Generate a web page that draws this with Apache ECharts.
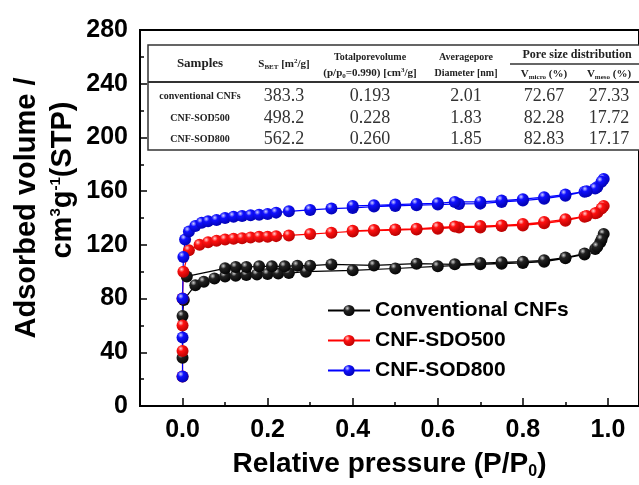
<!DOCTYPE html>
<html>
<head>
<meta charset="utf-8">
<script src="https://cdn.jsdelivr.net/npm/echarts@6/dist/echarts.min.js"></script>
<style>
	html, body { margin: 0; padding: 0; background: #fff; }
	#main { width: 639px; height: 485px; }
</style>
</head>
<body>
<div id="main"></div>
<script>
// isotherm data, adsorption branch then desorption branch (P/P0, cm3/g)
var cnfP = [0, 0, 0.003, 0.03, 0.05, 0.075, 0.1, 0.125, 0.15, 0.175, 0.2, 0.225, 0.25, 0.29, 0.4, 0.5, 0.6, 0.7, 0.75, 0.8, 0.85, 0.9, 0.945, 0.97, 0.982, 0.99,
	0.985, 0.975, 0.945, 0.9, 0.85, 0.8, 0.75, 0.7, 0.64, 0.55, 0.45, 0.35, 0.3, 0.27, 0.24, 0.21, 0.18, 0.15, 0.125, 0.1, 0.01];
var cnfV = [36, 67, 79, 90, 92.5, 95, 96.5, 97, 97.5, 98, 98.3, 98.7, 99, 100, 101, 102.4, 104, 105.5, 106, 106.5, 107.5, 110, 112.8, 117, 122, 128,
	124, 118.5, 113.5, 110.5, 108.5, 107.5, 107, 106.5, 105.5, 106, 104.7, 105.4, 104.5, 104.5, 104, 104, 104, 103.5, 103.5, 102.5, 96.5];

var sod500P = [0, 0, 0, 0, 0.002, 0.015, 0.04, 0.06, 0.08, 0.1, 0.12, 0.14, 0.16, 0.18, 0.2, 0.22, 0.25, 0.3, 0.35, 0.4, 0.45, 0.5, 0.55, 0.6, 0.65, 0.7, 0.75, 0.8, 0.85, 0.9, 0.945, 0.975, 0.99,
	0.985, 0.97, 0.95, 0.9, 0.85, 0.8, 0.75, 0.7, 0.64, 0.6, 0.55, 0.5, 0.45, 0.4];
var sod500V = [22, 41, 60, 80, 100, 116, 120, 122, 123, 124, 124.5, 125, 125.5, 126, 126, 126.5, 127, 128, 129, 130, 130.5, 131, 131.5, 132, 133, 133, 134, 134.5, 136, 138, 141, 144, 149,
	147, 143.5, 141.5, 139, 137, 135.5, 134.5, 134, 133.6, 133, 132, 131.5, 131, 130.5];

var sod800P = [0, 0, 0, 0.002, 0.006, 0.015, 0.03, 0.045, 0.06, 0.08, 0.1, 0.12, 0.14, 0.16, 0.18, 0.2, 0.22, 0.25, 0.3, 0.35, 0.4, 0.45, 0.5, 0.55, 0.6, 0.65, 0.7, 0.75, 0.8, 0.85, 0.9, 0.945, 0.975, 0.99,
	0.985, 0.97, 0.95, 0.9, 0.85, 0.8, 0.75, 0.7, 0.64, 0.6, 0.55, 0.5, 0.45, 0.4];
var sod800V = [22, 51, 80, 111, 124, 130, 134, 136.5, 137.5, 138.5, 140, 141, 141.5, 142, 142.5, 143, 144, 145, 146, 147, 147.5, 148.5, 149, 149.5, 150, 150.5, 150.7, 152, 153, 154.4, 156.6, 159.6, 163, 169,
	167, 162, 160, 157.5, 155.5, 154, 153, 152, 152, 151, 150.5, 150, 149.5, 149];

var seriesNames = ['Conventional CNFs', 'CNF-SDO500', 'CNF-SOD800'];
var xMajorTicks = [0, 0.2, 0.4, 0.6, 0.8, 1.0];
var xMinorTicks = [0.1, 0.3, 0.5, 0.7, 0.9];

// inset table
var tableSamples = ['conventional CNFs', 'CNF-SOD500', 'CNF-SOD800'];
var tableSbet = ['383.3', '498.2', '562.2'];
var tableVolume = ['0.193', '0.228', '0.260'];
var tableDiameter = ['2.01', '1.83', '1.85'];
var tableMicro = ['72.67', '82.28', '82.83'];
var tableMeso = ['27.33', '17.72', '17.17'];

function zip(xs, ys) {
	return xs.map(function (x, i) { return [x, ys[i]]; });
}

// shaded "ball" markers
function ball(light, base, dark) {
	return new echarts.graphic.RadialGradient(0.35, 0.3, 0.8, [
		{offset: 0, color: light},
		{offset: 0.3, color: base},
		{offset: 1, color: dark}
	]);
}

var sans = '"Liberation Sans", Arial, sans-serif';
var serif = '"Liberation Serif", "Times New Roman", serif';

var myChart = echarts.init(document.getElementById('main'));

// table graphics
var colX = [200, 284, 370, 466, 544, 609];
var rowY = [96, 118, 139];
var tableEls = [
	{type: 'rect', shape: {x: 148, y: 45, width: 500, height: 105}, style: {fill: '#fff', stroke: '#333', lineWidth: 1.5}},
	{type: 'line', shape: {x1: 148, y1: 82, x2: 639, y2: 82}, style: {stroke: '#333', lineWidth: 2}},
	{type: 'line', shape: {x1: 510, y1: 64, x2: 639, y2: 64}, style: {stroke: '#333', lineWidth: 1.5}}
];
function headText(x, y, text, size, rich) {
	return {
		type: 'text', x: x, y: y,
		style: {
			text: text, fill: '#222', align: 'center', verticalAlign: 'middle',
			font: 'bold ' + size + 'px ' + serif,
			rich: rich || {}
		}
	};
}
var headRich = {
	sub: {fontSize: 7, fontWeight: 'bold', fontFamily: serif, verticalAlign: 'bottom', padding: [6, 0, 0, 0]},
	sup: {fontSize: 7, fontWeight: 'bold', fontFamily: serif, verticalAlign: 'top', padding: [0, 0, 5, 0]},
	t: {fontSize: 11, fontWeight: 'bold', fontFamily: serif}
};
tableEls.push(headText(colX[0], 64, 'Samples', 13));
tableEls.push(headText(colX[1], 64, '{t|S}{sub|BET}{t| [m}{sup|2}{t|/g]}', 11, headRich));
tableEls.push(headText(colX[2], 57, 'Totalporevolume', 10));
tableEls.push(headText(colX[2], 73, '{t|(p/p}{sub|0}{t|=0.990) [cm}{sup|3}{t|/g]}', 10, headRich));
tableEls.push(headText(colX[3], 57, 'Averagepore', 10));
tableEls.push(headText(colX[3], 73, 'Diameter [nm]', 10));
tableEls.push(headText(577, 55, 'Pore size distribution', 12));
tableEls.push(headText(colX[4], 74, '{t|V}{sub|micro}{t| (%)}', 10, headRich));
tableEls.push(headText(colX[5], 74, '{t|V}{sub|meso}{t| (%)}', 10, headRich));

tableSamples.forEach(function (name, i) {
	tableEls.push(headText(colX[0], rowY[i], name, 10));
	[tableSbet, tableVolume, tableDiameter, tableMicro, tableMeso].forEach(function (col, j) {
		tableEls.push({
			type: 'text', x: colX[j + 1], y: rowY[i],
			style: {text: col[i], fill: '#333', align: 'center', verticalAlign: 'middle', font: '18px ' + serif}
		});
	});
});

// y axis title (two rotated lines)
var yRich = {
	a: {fontSize: 29, fontWeight: 'bold', fontFamily: sans, fill: '#000'},
	sup: {fontSize: 15, fontWeight: 'bold', fontFamily: sans, fill: '#000', verticalAlign: 'top', padding: [0, 0, 14, 0]}
};
tableEls.push({
	type: 'text', x: 27, y: 208, rotation: Math.PI / 2,
	style: {text: 'Adsorbed volume /', fill: '#000', align: 'center', verticalAlign: 'middle', font: 'bold 29px ' + sans}
});
tableEls.push({
	type: 'text', x: 63, y: 180, rotation: Math.PI / 2,
	style: {text: '{a|cm}{sup|3}{a|g}{sup|-1}{a|(STP)}', align: 'center', verticalAlign: 'middle', rich: yRich}
});

function lineSeries(name, data, light, base, dark, lineColor) {
	return {
		name: name,
		type: 'line',
		data: data,
		symbol: 'circle',
		symbolSize: 12,
		itemStyle: {color: ball(light, base, dark), borderWidth: 0},
		lineStyle: {color: lineColor, width: 1.2},
		emphasis: {disabled: true}
	};
}

var option = {
	animation: false,
	backgroundColor: '#fff',
	grid: {
		left: 140, right: -2, top: 30, bottom: 76,
		show: true, borderColor: '#000', borderWidth: 2
	},
	legend: {
		orient: 'vertical',
		left: 322, top: 295,
		itemWidth: 42, itemHeight: 14, itemGap: 9,
		data: seriesNames,
		textStyle: {fontFamily: sans, fontWeight: 'bold', fontSize: 21, color: '#000'}
	},
	xAxis: [
		{
			type: 'value', min: -0.1, max: 1.073, position: 'bottom',
			name: '{a|Relative pressure (P/P}{sub|0}{a|)}',
			nameLocation: 'middle', nameGap: 42,
			nameTextStyle: {
				rich: {
					a: {fontFamily: sans, fontWeight: 'bold', fontSize: 28, color: '#000'},
					sub: {fontFamily: sans, fontWeight: 'bold', fontSize: 16, color: '#000', verticalAlign: 'bottom', padding: [16, 0, 0, 0]}
				}
			},
			splitLine: {show: false},
			axisLine: {onZero: false, lineStyle: {color: '#000', width: 2}},
			axisTick: {inside: true, length: 8, customValues: xMajorTicks, lineStyle: {color: '#000', width: 1.5}},
			axisLabel: {
				customValues: xMajorTicks, margin: 12,
				fontFamily: sans, fontWeight: 'bold', fontSize: 25, color: '#000',
				formatter: function (v) { return v.toFixed(1); }
			}
		},
		{
			type: 'value', min: -0.1, max: 1.073, position: 'bottom',
			splitLine: {show: false},
			axisLine: {show: false},
			axisTick: {inside: true, length: 4, customValues: xMinorTicks, lineStyle: {color: '#000', width: 1.5}},
			axisLabel: {show: false}
		}
	],
	yAxis: {
		type: 'value', min: 0, max: 280, interval: 40,
		splitLine: {show: false},
		axisLine: {onZero: false, lineStyle: {color: '#000', width: 2}},
		axisTick: {inside: true, length: 7, lineStyle: {color: '#000', width: 1.5}},
		minorTick: {show: true, splitNumber: 2, length: 4, lineStyle: {color: '#000', width: 1.5}},
		axisLabel: {margin: 12, fontFamily: sans, fontWeight: 'bold', fontSize: 25, color: '#000'}
	},
	graphic: tableEls,
	series: [
		lineSeries(seriesNames[0], zip(cnfP, cnfV), '#d0d0d0', '#222', '#000', '#000'),
		lineSeries(seriesNames[1], zip(sod500P, sod500V), '#ffd0d0', '#ff1010', '#b00000', '#ff0000'),
		lineSeries(seriesNames[2], zip(sod800P, sod800V), '#d0d0ff', '#1010ff', '#0000a8', '#0000ff')
	]
};
myChart.setOption(option);
</script>
</body>
</html>
